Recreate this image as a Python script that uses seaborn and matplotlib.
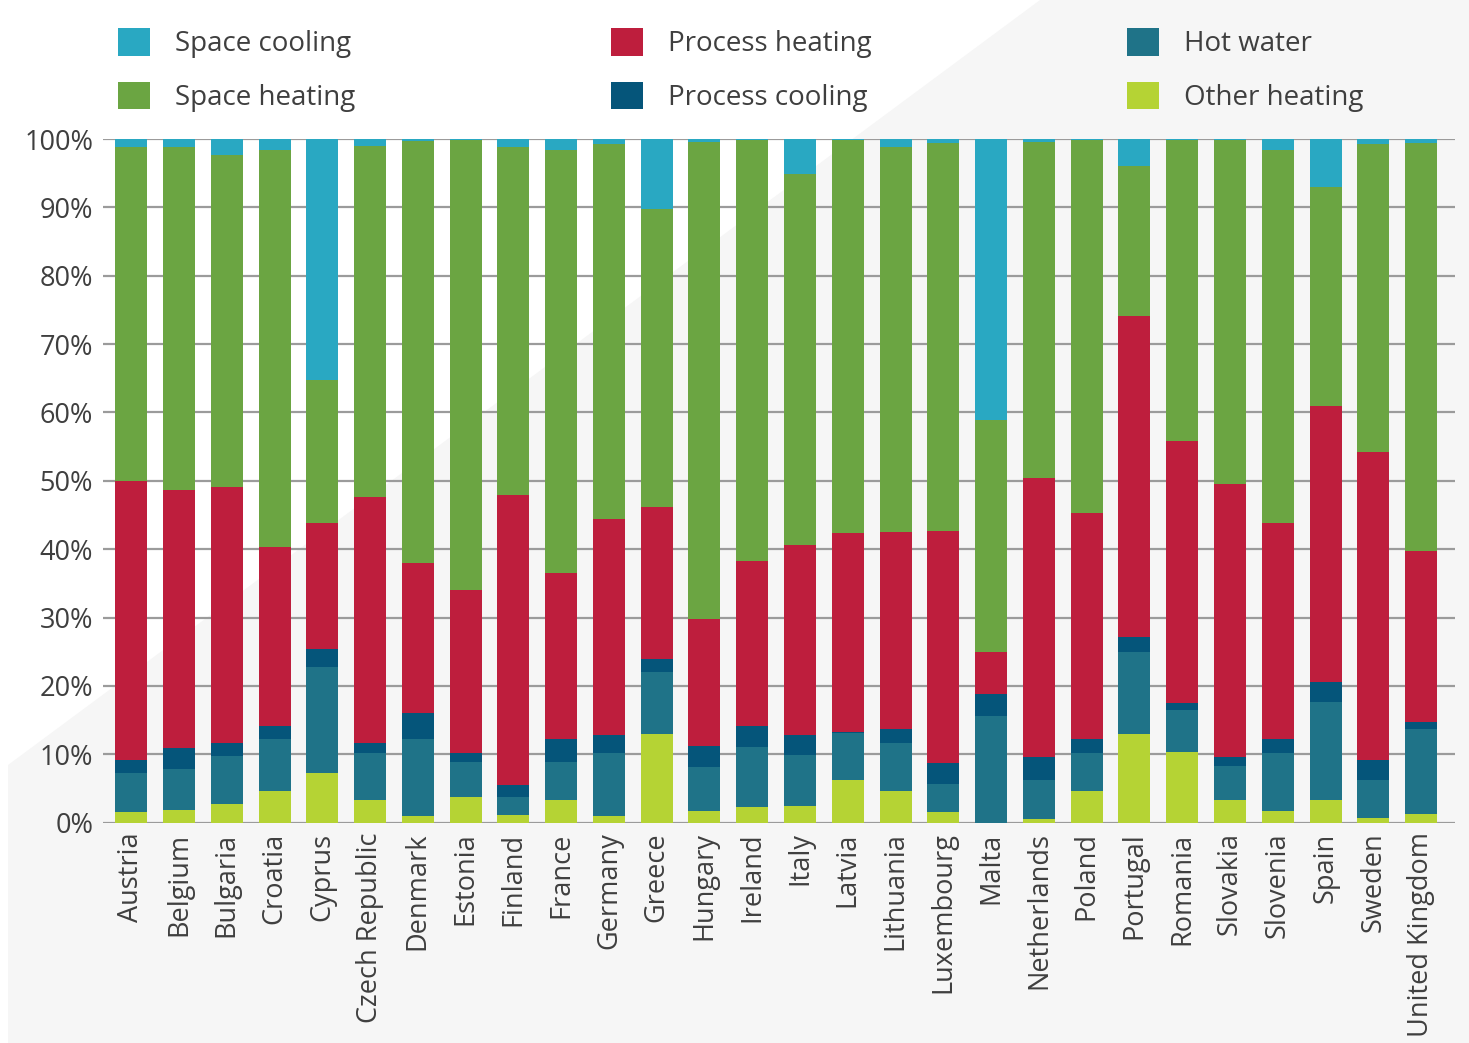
import numpy as np
import pandas as pd
import matplotlib
matplotlib.use("Agg")
import matplotlib.pyplot as plt
from matplotlib.patches import Patch, Polygon
import seaborn as sns

countries = ["Austria", "Belgium", "Bulgaria", "Croatia", "Cyprus", "Czech Republic",
             "Denmark", "Estonia", "Finland", "France", "Germany", "Greece", "Hungary",
             "Ireland", "Italy", "Latvia", "Lithuania", "Luxembourg", "Malta",
             "Netherlands", "Poland", "Portugal", "Romania", "Slovakia", "Slovenia",
             "Spain", "Sweden", "United Kingdom"]

# shares in % (bottom to top)
other_heating = [1.5, 1.9, 2.8, 4.6, 7.2, 3.3, 1.0, 3.8, 1.1, 3.3, 1.0, 13.0, 1.7, 2.3,
                 2.5, 6.3, 4.6, 1.5, 0.0, 0.55, 4.6, 13.0, 10.4, 3.3, 1.7, 3.3, 0.7, 1.2]
hot_water = [5.7, 5.9, 7.0, 7.7, 15.6, 6.9, 11.3, 5.1, 2.6, 5.6, 9.2, 9.0, 6.4, 8.8,
             7.4, 6.8, 7.05, 4.2, 15.55, 5.75, 5.6, 11.9, 6.1, 5.0, 8.5, 14.4, 5.6, 12.45]
process_cooling = [1.9, 3.1, 1.9, 1.9, 2.6, 1.4, 3.7, 1.3, 1.8, 3.4, 2.6, 1.9, 3.1, 3.0,
                   2.9, 0.1, 2.0, 3.1, 3.25, 3.3, 2.0, 2.25, 0.95, 1.3, 2.0, 2.9, 2.8, 1.15]
process_heating = [40.9, 37.7, 37.4, 26.1, 18.4, 36.1, 22.0, 23.8, 42.4, 24.2, 31.6, 22.3,
                   18.6, 24.2, 27.8, 29.2, 28.85, 33.9, 6.2, 40.8, 33.1, 46.95, 38.35, 40.0,
                   31.6, 40.3, 45.1, 25.0]
space_heating = [48.8, 50.2, 48.5, 58.1, 20.9, 51.3, 61.7, 65.8, 50.9, 61.9, 54.8, 43.5,
                 69.7, 61.5, 54.3, 57.45, 56.4, 56.7, 33.9, 49.1, 54.55, 21.9, 44.05, 50.25,
                 54.6, 32.1, 45.0, 59.55]
space_cooling = [1.2, 1.2, 2.4, 1.6, 35.3, 1.0, 0.3, 0.2, 1.2, 1.6, 0.8, 10.3, 0.5, 0.2,
                 5.1, 0.15, 1.1, 0.6, 41.1, 0.5, 0.15, 4.0, 0.15, 0.15, 1.6, 7.0, 0.8, 0.65]

series_names = ["Other heating", "Hot water", "Process cooling", "Process heating",
                "Space heating", "Space cooling"]
series_values = [other_heating, hot_water, process_cooling, process_heating,
                 space_heating, space_cooling]
colors = {"Space cooling": "#29A8C2", "Space heating": "#6BA542",
          "Process heating": "#BE1E3D", "Process cooling": "#05557A",
          "Hot water": "#1F7388", "Other heating": "#B5D334"}
y_ticks = [0, 10, 20, 30, 40, 50, 60, 70, 80, 90, 100]
y_tick_labels = [f"{t}%" for t in y_ticks]

df = pd.DataFrame({n: v for n, v in zip(series_names, series_values)}, index=countries)
cum = df.cumsum(axis=1)

sns.set_style("white")
plt.rcParams["font.family"] = ["Open Sans", "DejaVu Sans"]

W, H = 1469, 1043
fig = plt.figure(figsize=(W / 100, H / 100), dpi=100)

# faint decorative background shape
bg = Polygon([(1040 / W, 1.0), (1.0, 1.0), (1.0, 0.0), (8 / W, 0.0), (8 / W, 1 - 765 / H)],
             closed=True, transform=fig.transFigure, facecolor="#f6f6f6",
             edgecolor="none", zorder=-10)
fig.patches.append(bg)

ax = fig.add_axes([103 / W, 1 - 822.7 / H, (1455 - 103) / W, (822.7 - 139) / H])
ax.set_facecolor("none")
ax.set_zorder(5)

for name in reversed(series_names):
    sns.barplot(x=countries, y=cum[name].values, color=colors[name], width=0.67,
                ax=ax, saturation=1, zorder=3, edgecolor="none")

ax.set_ylim(0, 100)
ax.set_xlim(-0.59, len(countries) - 1 + 0.71)
ax.set_yticks(y_ticks)
ax.set_yticklabels(y_tick_labels)
ax.yaxis.grid(True, color="#9b9b9b", linewidth=1.6, zorder=0)
ax.set_axisbelow(True)
for s in ax.spines.values():
    s.set_visible(False)
ax.tick_params(axis="y", length=0, pad=7, labelsize=19.5, labelcolor="#3f3f3f")
ax.tick_params(axis="x", length=0, pad=7, labelsize=19.5, labelcolor="#3f3f3f",
               rotation=90)
ax.set_xlabel("")
ax.set_ylabel("")

legend_order = ["Space cooling", "Space heating", "Process heating", "Process cooling",
                "Hot water", "Other heating"]
handles = [Patch(facecolor=colors[n], edgecolor="none") for n in legend_order]
leg = fig.legend(handles, legend_order, loc="upper left",
                 bbox_to_anchor=(118 / W, 1 - 28 / H), ncol=3, frameon=False,
                 fontsize=20, labelcolor="#3f3f3f", handlelength=1.15, handleheight=1.15,
                 handletextpad=0.9, columnspacing=9.2, labelspacing=0.85, borderpad=0,
                 borderaxespad=0)
leg.set_zorder(6)

fig.savefig("out.png", dpi=100, facecolor="white")
